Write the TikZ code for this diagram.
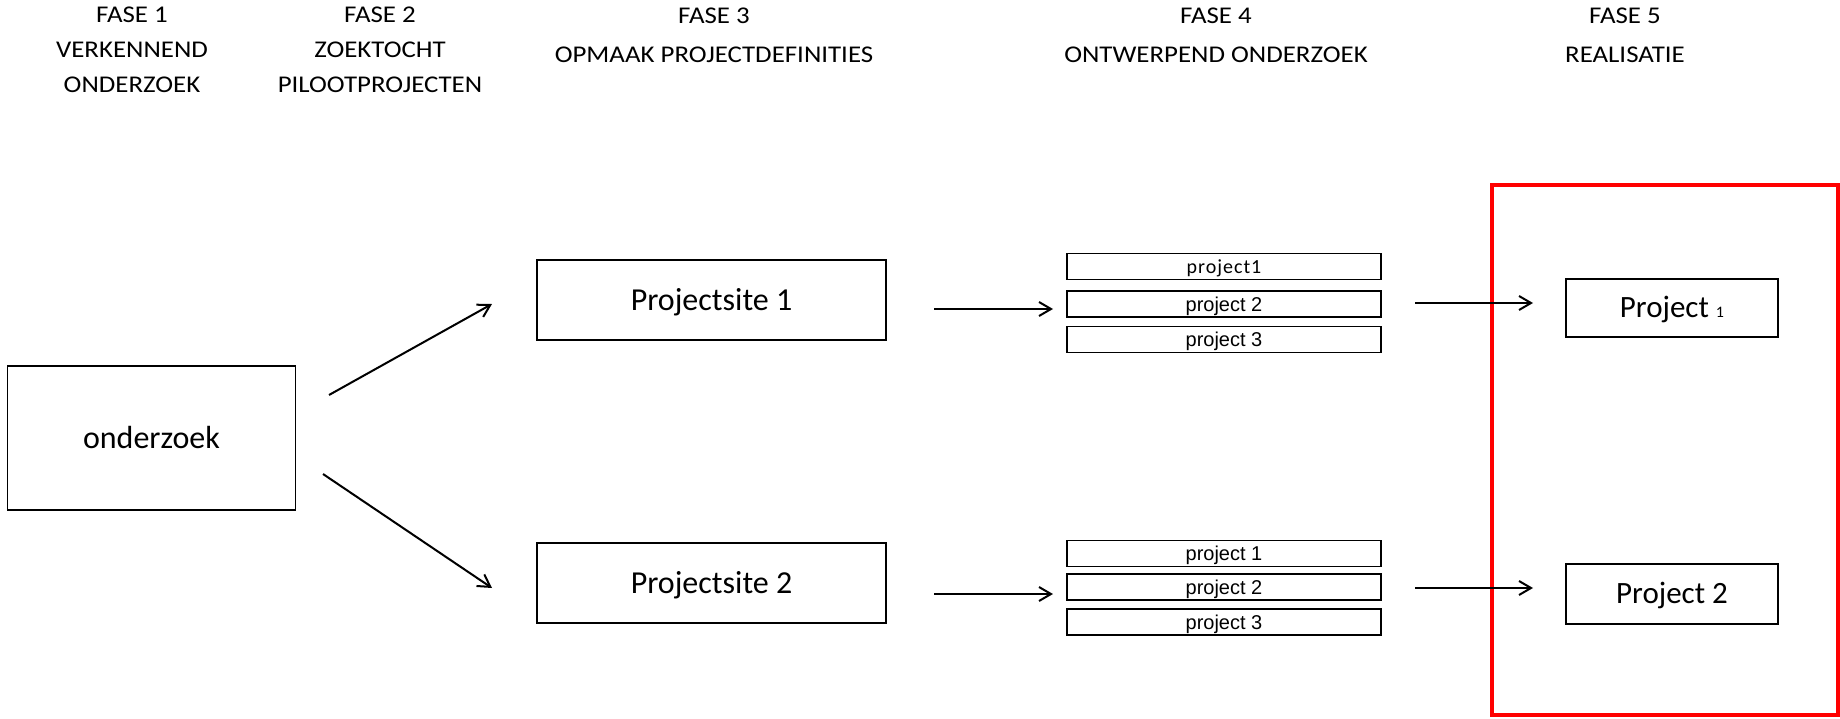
\documentclass[tikz,border=0pt]{standalone}
\usepackage{fontspec}
\setmainfont{Carlito}
\newfontfamily\hdrfont[FakeStretch=1.12]{Carlito}
\newfontfamily\arialfont{Liberation Sans}
\newfontfamily\spacedfont[LetterSpace=5]{Carlito}
\usetikzlibrary{arrows.meta}
\begin{document}
\begin{tikzpicture}[x=1pt,y=-1pt,
  hdr/.style={anchor=north,inner sep=0pt,align=center,font=\hdrfont\fontsize{24}{35}\selectfont},
  hdrwide/.style={hdr,font=\hdrfont\fontsize{24}{39}\selectfont},
  bigbox/.style={draw=black,line width=1.4pt,inner sep=0pt,text height=20.5pt,text depth=0pt,font=\fontsize{32}{38}\selectfont},
  smallbox/.style={draw=black,line width=1.4pt,inner sep=0pt,minimum width=314pt,minimum height=26pt,text height=14.4pt,text depth=0pt,font=\arialfont\fontsize{20}{24}\selectfont},
  resbox/.style={draw=black,line width=1.4pt,inner sep=0pt,minimum width=212pt,text height=19.8pt,text depth=0pt,font=\fontsize{31}{36}\selectfont},
  arr/.style={line width=2pt,-{Straight Barb[length=12pt,width=14pt,line width=2pt]}}]
\useasboundingbox (0,0) rectangle (1840,718);
% headers
\node[hdr] (h1) at (132,7) {FASE 1\\VERKENNEND\\ONDERZOEK};
\node[hdr] (h2) at (380,7) {FASE 2\\ZOEKTOCHT\\PILOOTPROJECTEN};
\node[hdrwide] (h3) at (714,8) {FASE 3\\OPMAAK PROJECTDEFINITIES};
\node[hdrwide] (h4) at (1216,8) {FASE 4\\ONTWERPEND ONDERZOEK};
\node[hdrwide] (h5) at (1625,8) {FASE 5\\REALISATIE};
% red frame
\draw[red,line width=4pt] (1492,185) rectangle (1838,715);
% boxes
\node[bigbox,minimum width=288pt,minimum height=144pt] (ond) at (151.5,438) {onderzoek};
\node[bigbox,minimum width=349pt,minimum height=80pt] (ps1) at (711.5,300) {Projectsite 1};
\node[bigbox,minimum width=349pt,minimum height=80pt] (ps2) at (711.5,583) {Projectsite 2};
\node[smallbox,font=\spacedfont\fontsize{20}{24}\selectfont] (t1) at (1224,266.5) {project1};
\node[smallbox] (t2) at (1224,304) {project 2};
\node[smallbox] (t3) at (1224,339.5) {project 3};
\node[smallbox] (b1) at (1224,553.5) {project 1};
\node[smallbox] (b2) at (1224,587) {project 2};
\node[smallbox] (b3) at (1224,622) {project 3};
\node[resbox,minimum height=58pt] (p1) at (1672,308) {Project {\fontsize{16}{18}\selectfont 1}};
\node[resbox,minimum height=60pt] (p2) at (1672,594) {Project 2};
% arrow ends
\coordinate (a1s) at (329,395); \coordinate (a1e) at (492,304);
\coordinate (a2s) at (323,474); \coordinate (a2e) at (492,588);
\coordinate (a3s) at (934,309); \coordinate (a3e) at (1053,309);
\coordinate (a4s) at (934,594); \coordinate (a4e) at (1053,594);
\coordinate (a5s) at (1415,303); \coordinate (a5e) at (1533,303);
\coordinate (a6s) at (1415,588); \coordinate (a6e) at (1533,588);
\draw[arr] (a1s) -- (a1e);
\draw[arr] (a2s) -- (a2e);
\draw[arr] (a3s) -- (a3e);
\draw[arr] (a4s) -- (a4e);
\draw[arr] (a5s) -- (a5e);
\draw[arr] (a6s) -- (a6e);
\end{tikzpicture}
\end{document}
